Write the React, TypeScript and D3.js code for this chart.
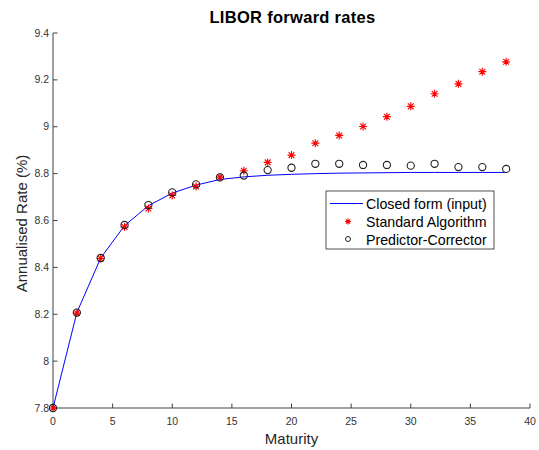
import React from 'react';
import { scaleLinear, line } from 'd3';

// maturities (years)
const maturities = [0, 2, 4, 6, 8, 10, 12, 14, 16, 18, 20, 22, 24, 26, 28, 30, 32, 34, 36, 38];
// closed form input curve
const closedForm = [7.8, 8.207, 8.44, 8.578, 8.663, 8.717, 8.751, 8.775, 8.786, 8.793, 8.797, 8.8, 8.802, 8.803, 8.804, 8.805, 8.805, 8.805, 8.805, 8.805];
// standard algorithm
const standardAlg = [7.8, 8.205, 8.438, 8.572, 8.651, 8.707, 8.745, 8.785, 8.812, 8.848, 8.879, 8.93, 8.963, 9.001, 9.043, 9.087, 9.141, 9.183, 9.235, 9.277];
// predictor-corrector
const predCorr = [7.8, 8.207, 8.44, 8.581, 8.666, 8.72, 8.754, 8.784, 8.792, 8.815, 8.825, 8.842, 8.842, 8.837, 8.837, 8.834, 8.842, 8.828, 8.828, 8.82];

const xTicks = [0, 5, 10, 15, 20, 25, 30, 35, 40];
const yTicks = [7.8, 8, 8.2, 8.4, 8.6, 8.8, 9, 9.2, 9.4];
const legendLabels = ['Closed form (input)', 'Standard Algorithm', 'Predictor-Corrector'];

const W = 539;
const H = 450;
const margin = { top: 33, right: 9, bottom: 42, left: 53 };
const FONT = '"Liberation Sans", Arial, Helvetica, sans-serif';
const AXIS = '#404040';

const Star = ({ x, y, r = 4 }) => {
    const d = r * 0.72;
    return (
        <path
            d={`M${x - r},${y}H${x + r}M${x},${y - r}V${y + r}M${x - d},${y - d}L${x + d},${y + d}M${x - d},${y + d}L${x + d},${y - d}`}
            stroke="#ff0000"
            strokeWidth={1.1}
            fill="none"
        />
    );
};

export default function App() {
    const x = scaleLinear().domain([0, 40]).range([margin.left, W - margin.right]);
    const y = scaleLinear().domain([7.8, 9.4]).range([H - margin.bottom, margin.top]);
    const x0 = x(0);
    const y0 = y(7.8);

    const curve = line<number>()
        .x((d, i) => x(maturities[i]))
        .y(d => y(d));

    const lx = 326, ly = 191, lw = 168, lh = 58;

    return (
        <svg width={W} height={H} style={{ position: 'absolute', left: 0, top: 0, background: '#fff' }} fontFamily={FONT}>
            <rect width={W} height={H} fill="#fff" />
            {/* title */}
            <text x={(x0 + x(40)) / 2 + 1} y={23} textAnchor="middle" fontSize={16.5} fontWeight="bold" fill="#000" letterSpacing={0.3}>
                LIBOR forward rates
            </text>

            {/* axes */}
            <line x1={x0} x2={x(40)} y1={y0} y2={y0} stroke={AXIS} strokeWidth={1} />
            <line x1={x0} x2={x0} y1={y0} y2={y(9.4)} stroke={AXIS} strokeWidth={1} />
            {xTicks.map(t => (
                <g key={'x' + t}>
                    <line x1={x(t)} x2={x(t)} y1={y0} y2={y0 - 4.5} stroke={AXIS} />
                    <text x={x(t)} y={y0 + 17} textAnchor="middle" fontSize={10.5} fill="#333">{t}</text>
                </g>
            ))}
            {yTicks.map(t => (
                <g key={'y' + t}>
                    <line x1={x0} x2={x0 + 4.5} y1={y(t)} y2={y(t)} stroke={AXIS} />
                    <text x={x0 - 4} y={y(t) + 3.5} textAnchor="end" fontSize={10.5} fill="#333">{String(+t.toFixed(1))}</text>
                </g>
            ))}
            <text x={(x0 + x(40)) / 2} y={444} textAnchor="middle" fontSize={15} fill="#262626">Maturity</text>
            <text transform={`translate(27,${(y0 + y(9.4)) / 2 + 3}) rotate(-90)`} textAnchor="middle" fontSize={15} fill="#262626">
                Annualised Rate (%)
            </text>

            {/* closed form */}
            <path d={curve(closedForm) || ''} fill="none" stroke="#0000ff" strokeWidth={1} />

            {/* standard algorithm */}
            {standardAlg.map((v, i) => <Star key={'s' + i} x={x(maturities[i])} y={y(v)} />)}

            {/* predictor-corrector */}
            {predCorr.map((v, i) => (
                <circle key={'c' + i} cx={x(maturities[i])} cy={y(v)} r={3.6} fill="none" stroke="#222" strokeWidth={1.1} />
            ))}

            {/* legend */}
            <rect x={lx} y={ly} width={lw} height={lh} fill="#fff" stroke="#262626" strokeWidth={0.8} />
            <line x1={lx + 4} x2={lx + 37} y1={ly + 12.5} y2={ly + 12.5} stroke="#0000ff" />
            <Star x={lx + 22} y={ly + 30.5} r={3} />
            <circle cx={lx + 22} cy={ly + 48} r={2.5} fill="none" stroke="#222" strokeWidth={1} />
            {legendLabels.map((l, i) => (
                <text key={l} x={lx + 40} y={ly + 17.5 + i * 18.2} fontSize={14.2} fill="#000">{l}</text>
            ))}
        </svg>
    );
}
